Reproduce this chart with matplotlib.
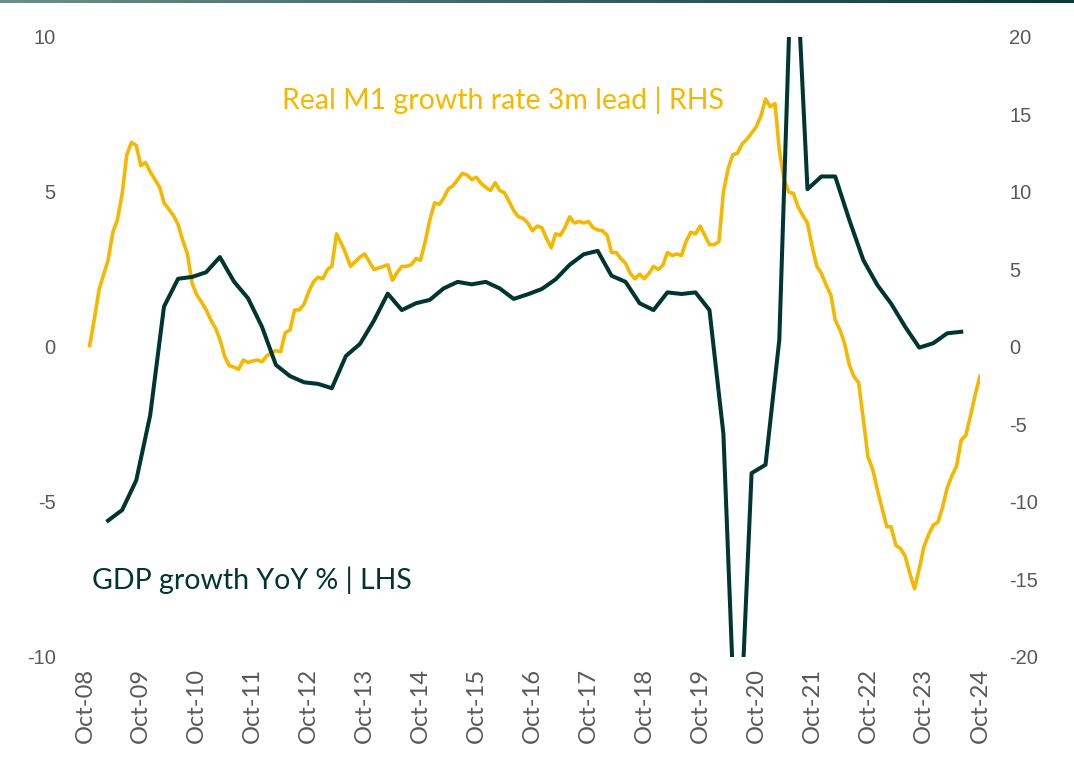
import matplotlib
matplotlib.use('Agg')
import numpy as np
import pandas as pd
import matplotlib.pyplot as plt
from matplotlib.colors import LinearSegmentedColormap

# quarterly GDP growth, % YoY (left axis)
gdp_yoy = [-5.6, -5.26, -4.3, -2.2, 1.3, 2.2, 2.26, 2.41, 2.9, 2.11, 1.57, 0.65,
           -0.58, -0.94, -1.14, -1.19, -1.33, -0.29, 0.1, 0.85, 1.72, 1.19, 1.41, 1.52,
           1.89, 2.1, 2.02, 2.1, 1.89, 1.55, 1.7, 1.87, 2.18, 2.65, 2.99, 3.1,
           2.3, 2.1, 1.41, 1.19, 1.76, 1.71, 1.76, 1.19, -2.8, -14.5, -4.07, -3.8,
           0.23, 14.5, 5.09, 5.5, 5.5, 4.1, 2.8, 2.0, 1.4, 0.65, -0.02, 0.12, 0.44, 0.49]

# monthly real M1 growth, 3m lead (right axis)
m1_real_lead = [0.1, 1.8, 3.7, 4.7, 5.6, 7.4, 8.2, 9.9, 12.4, 13.2,
                13.0, 11.7, 11.9, 11.3, 10.8, 10.3, 9.3, 8.9, 8.5, 7.9,
                6.9, 6.0, 4.1, 3.35, 2.9, 2.4, 1.74, 1.2, 0.5, -0.6,
                -1.2, -1.3, -1.44, -0.84, -1.0, -0.9, -0.84, -0.95, -0.58, -0.37,
                -0.24, -0.3, 0.92, 1.1, 2.39, 2.39, 2.77, 3.57, 4.2, 4.5,
                4.4, 5.0, 5.2, 7.3, 6.7, 6.0, 5.2, 5.5, 5.8, 6.0,
                5.5, 5.0, 5.1, 5.2, 5.3, 4.3, 4.8, 5.2, 5.2, 5.3,
                5.7, 5.6, 6.8, 8.2, 9.3, 9.2, 9.6, 10.2, 10.4, 10.8,
                11.2, 11.1, 10.8, 10.95, 10.55, 10.3, 10.1, 10.6, 10.1, 9.95,
                9.4, 8.8, 8.4, 8.3, 8.0, 7.5, 7.8, 7.7, 7.0, 6.4,
                7.3, 7.2, 7.7, 8.4, 8.0, 8.1, 8.0, 8.1, 7.7, 7.55,
                7.5, 7.2, 6.1, 6.1, 5.7, 5.4, 4.75, 4.4, 4.7, 4.4,
                4.75, 5.2, 5.0, 5.3, 6.1, 5.9, 6.0, 5.9, 6.8, 7.4,
                7.3, 7.8, 7.2, 6.6, 6.6, 6.8, 10.0, 11.5, 12.4, 12.5,
                13.1, 13.4, 13.8, 14.2, 14.9, 16.0, 15.5, 15.7, 12.7, 10.8,
                10.0, 9.9, 9.05, 8.5, 8.0, 6.5, 5.2, 4.75, 4.0, 3.35,
                1.74, 1.1, 0.24, -1.16, -1.9, -2.3, -4.7, -7.1, -7.9, -9.2,
                -10.4, -11.6, -11.6, -12.8, -13.0, -13.5, -14.6, -15.6, -14.3, -12.9,
                -12.1, -11.5, -11.3, -10.3, -9.1, -8.3, -7.7, -6.0, -5.7, -4.4,
                -3.05, -1.9]

gdp_dates = pd.date_range('2009-03-01', periods=len(gdp_yoy), freq='3MS')
m1_dates = pd.date_range('2008-11-01', periods=len(m1_real_lead), freq='MS')
tick_dates = [pd.Timestamp(f'{y}-10-01') for y in range(2008, 2025)]
left_ticks = [-10, -5, 0, 5, 10]
right_ticks = [-20, -15, -10, -5, 0, 5, 10, 15, 20]

YELLOW = '#F5B800'
GREEN = '#00362F'
GREY = '#595959'
TEXT_FONT = ['Lato', 'DejaVu Sans']
NUM_FONT = ['Liberation Sans', 'DejaVu Sans']

fig = plt.figure(figsize=(10.74, 7.59), dpi=100)
ax = fig.add_axes([0.0791, 0.1344, 0.8333, 0.8169])
ax2 = ax.twinx()
ax.set_zorder(2)
ax2.set_zorder(1)
ax.patch.set_visible(False)

ax2.plot(m1_dates, m1_real_lead, color=YELLOW, lw=2.6, solid_joinstyle='round')
ax.plot(gdp_dates, gdp_yoy, color=GREEN, lw=2.9, solid_joinstyle='round')

ax.set_xlim(pd.Timestamp('2008-10-01'), pd.Timestamp('2024-10-01'))
ax.set_ylim(-10, 10)
ax2.set_ylim(-20, 20)

ax.set_yticks(left_ticks)
ax.set_yticklabels([str(t) for t in left_ticks])
ax2.set_yticks(right_ticks)
ax2.set_yticklabels([str(t) for t in right_ticks])
ax.set_xticks(tick_dates)
ax.set_xticklabels([d.strftime('%b-%y') for d in tick_dates], rotation=90,
                   ha='center', va='top')

# dashed gridlines every 10 on the right scale (= every 5 on the left)
ax2.set_yticks([-20, -10, 0, 10, 20], minor=True)
ax2.grid(which='minor', axis='y', color='#bdbdbd', ls=(0, (3, 2)), lw=0.9)
ax2.tick_params(which='minor', length=0)

for a in (ax, ax2):
    for s in a.spines.values():
        s.set_visible(False)
ax.tick_params(axis='y', length=0, pad=21, labelsize=14.5, labelcolor=GREY)
ax2.tick_params(axis='y', length=0, pad=21, labelsize=14.5, labelcolor=GREY)
ax.tick_params(axis='x', length=0, pad=8, labelsize=17, labelcolor=GREY)
for lab in ax.get_yticklabels() + ax2.get_yticklabels():
    lab.set_family(NUM_FONT)
for lab in ax.get_xticklabels():
    lab.set_family(TEXT_FONT)

ax.text(0.220, 0.898, 'Real M1 growth rate 3m lead | RHS', transform=ax.transAxes,
        color=YELLOW, fontsize=20.5, family=TEXT_FONT, ha='left', va='center')
ax.text(0.008, 0.124, 'GDP growth YoY % | LHS', transform=ax.transAxes,
        color=GREEN, fontsize=20.5, family=TEXT_FONT, ha='left', va='center')

# thin header bar across the top
bar = fig.add_axes([0, 0.996, 1, 0.004])
cmap = LinearSegmentedColormap.from_list('bar', ['#6f8c88', '#0d3a35'])
bar.imshow(np.linspace(0, 1, 256).reshape(1, -1), aspect='auto', cmap=cmap)
bar.axis('off')

fig.savefig('out.png', dpi=100)
